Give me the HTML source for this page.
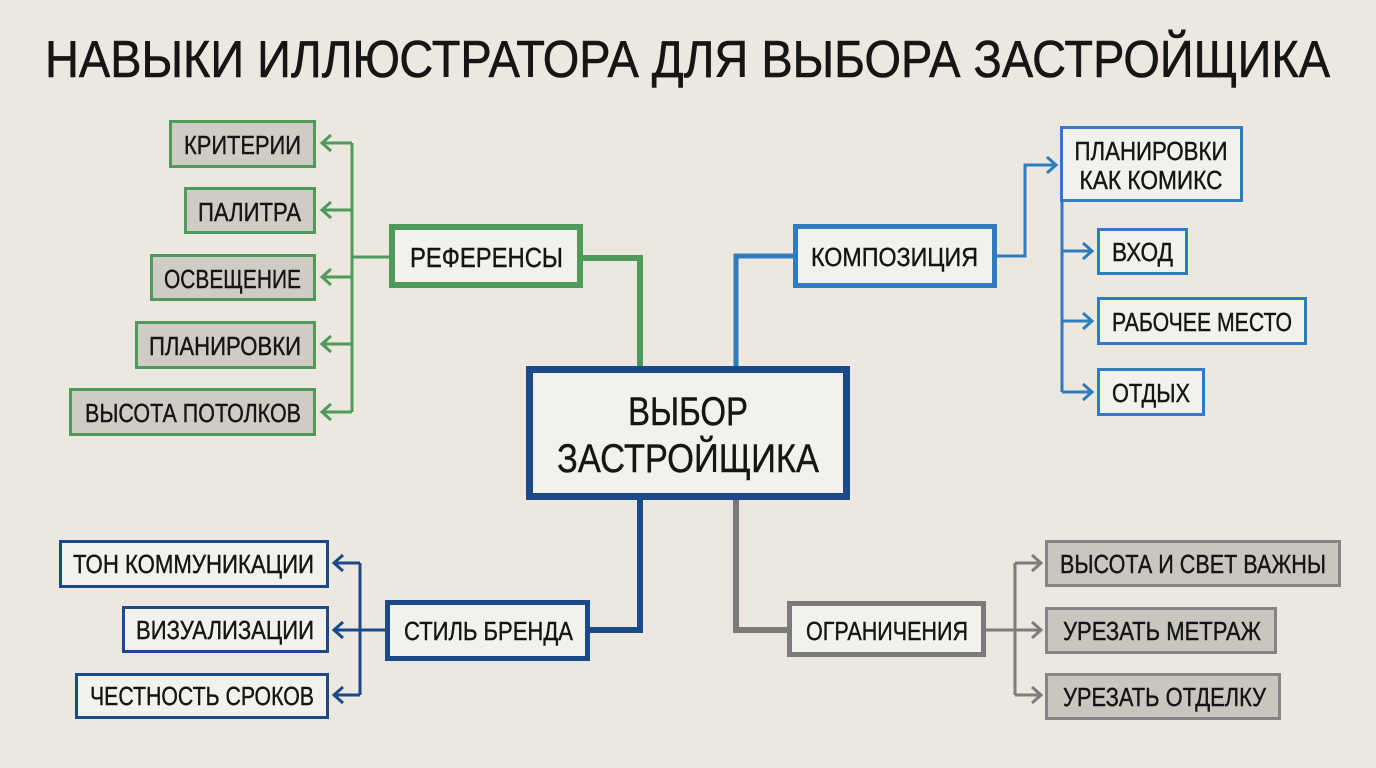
<!DOCTYPE html>
<html><head><meta charset="utf-8"><style>
html,body{margin:0;padding:0;background:#ece8df;}
svg{display:block}
text{font-family:"Liberation Sans","DejaVu Sans",sans-serif;fill:#151515;stroke:#151515;stroke-width:0.4;}
</style></head><body>
<svg width="1376" height="768" viewBox="0 0 1376 768" xmlns="http://www.w3.org/2000/svg">
<rect width="1376" height="768" fill="#ece8df"/>
<text x="45" y="77" font-size="52" textLength="1285" lengthAdjust="spacingAndGlyphs" style="stroke-width:0.6">НАВЫКИ ИЛЛЮСТРАТОРА ДЛЯ ВЫБОРА ЗАСТРОЙЩИКА</text>

<g fill="none" stroke-linejoin="miter">
  <polyline points="583,258 640,258 640,366" stroke="#4f9a5a" stroke-width="6"/>
  <g stroke="#4f9a5a" stroke-width="3">
    <line x1="389" y1="257" x2="352" y2="257"/>
    <line x1="352" y1="143" x2="352" y2="412"/>
    <line x1="352" y1="143" x2="322" y2="143"/><polyline points="331,135 322,143 331,151"/>
    <line x1="352" y1="210" x2="322" y2="210"/><polyline points="331,202 322,210 331,218"/>
    <line x1="352" y1="277" x2="322" y2="277"/><polyline points="331,269 322,277 331,285"/>
    <line x1="352" y1="344" x2="322" y2="344"/><polyline points="331,336 322,344 331,352"/>
    <line x1="352" y1="412" x2="322" y2="412"/><polyline points="331,404 322,412 331,420"/>
  </g>
  <polyline points="793,256 736,256 736,366" stroke="#2f7bbf" stroke-width="5"/>
  <g stroke="#2f7bbf" stroke-width="3">
    <polyline points="997,256 1025,256 1025,165 1056,165"/><polyline points="1047,157 1056,165 1047,173"/>
    <line x1="1062" y1="200" x2="1062" y2="392"/>
    <line x1="1062" y1="251" x2="1092" y2="251"/><polyline points="1083,243 1092,251 1083,259"/>
    <line x1="1062" y1="321" x2="1092" y2="321"/><polyline points="1083,313 1092,321 1083,329"/>
    <line x1="1062" y1="392" x2="1092" y2="392"/><polyline points="1083,384 1092,392 1083,400"/>
  </g>
  <polyline points="640,500 640,630 590,630" stroke="#1a4a8a" stroke-width="6"/>
  <g stroke="#1a4a8a" stroke-width="3">
    <line x1="385" y1="630" x2="360" y2="630"/>
    <line x1="360" y1="563" x2="360" y2="695"/>
    <line x1="360" y1="563" x2="334" y2="563"/><polyline points="343,555 334,563 343,571"/>
    <line x1="360" y1="630" x2="334" y2="630"/><polyline points="343,622 334,630 343,638"/>
    <line x1="360" y1="695" x2="334" y2="695"/><polyline points="343,687 334,695 343,703"/>
  </g>
  <polyline points="736,500 736,630 787,630" stroke="#7a7a7a" stroke-width="6"/>
  <g stroke="#7d7d7d" stroke-width="3">
    <line x1="986" y1="630" x2="1015" y2="630"/>
    <line x1="1015" y1="563" x2="1015" y2="695"/>
    <line x1="1015" y1="563" x2="1041" y2="563"/><polyline points="1032,555 1041,563 1032,571"/>
    <line x1="1015" y1="630" x2="1041" y2="630"/><polyline points="1032,622 1041,630 1032,638"/>
    <line x1="1015" y1="695" x2="1041" y2="695"/><polyline points="1032,687 1041,695 1032,703"/>
  </g>
</g>

<g fill="#cfccc5" stroke="#4f9a5a" stroke-width="3">
  <rect x="170.5" y="121.5" width="144" height="45"/>
  <rect x="185.5" y="188.5" width="129" height="44"/>
  <rect x="151.5" y="255.5" width="163" height="44"/>
  <rect x="136.5" y="322.5" width="178" height="45"/>
  <rect x="70.5" y="389.5" width="244" height="45"/>
</g>
<text x="184" y="154" font-size="26" textLength="117" lengthAdjust="spacingAndGlyphs">КРИТЕРИИ</text>
<text x="198" y="221" font-size="26" textLength="103" lengthAdjust="spacingAndGlyphs">ПАЛИТРА</text>
<text x="164" y="288" font-size="26" textLength="137" lengthAdjust="spacingAndGlyphs">ОСВЕЩЕНИЕ</text>
<text x="149" y="355" font-size="26" textLength="152" lengthAdjust="spacingAndGlyphs">ПЛАНИРОВКИ</text>
<text x="85" y="422" font-size="26" textLength="216" lengthAdjust="spacingAndGlyphs">ВЫСОТА ПОТОЛКОВ</text>

<rect x="392" y="227" width="188" height="58" fill="#f3f1ec" stroke="#4f9a5a" stroke-width="6"/>
<text x="410" y="267" font-size="28" textLength="153" lengthAdjust="spacingAndGlyphs">РЕФЕРЕНСЫ</text>

<rect x="529.5" y="369.5" width="317" height="127" fill="#f3f1ec" stroke="#1a4a8a" stroke-width="7"/>
<text x="688" y="425" font-size="40" text-anchor="middle" textLength="120" lengthAdjust="spacingAndGlyphs">ВЫБОР</text>
<text x="688" y="472" font-size="40" text-anchor="middle" textLength="262" lengthAdjust="spacingAndGlyphs">ЗАСТРОЙЩИКА</text>

<rect x="795.5" y="226.5" width="199" height="59" fill="#f3f1ec" stroke="#2f7bbf" stroke-width="5"/>
<text x="811" y="266" font-size="26" textLength="167" lengthAdjust="spacingAndGlyphs">КОМПОЗИЦИЯ</text>
<g fill="#f3f1ec" stroke="#2f7bbf" stroke-width="3">
  <rect x="1061.5" y="127.5" width="180" height="73"/>
  <rect x="1098.5" y="229.5" width="88" height="44"/>
  <rect x="1098.5" y="298.5" width="207" height="45"/>
  <rect x="1098.5" y="369.5" width="105" height="45"/>
</g>
<text x="1151" y="160" font-size="26" text-anchor="middle" textLength="153" lengthAdjust="spacingAndGlyphs">ПЛАНИРОВКИ</text>
<text x="1151" y="189" font-size="26" text-anchor="middle" textLength="143" lengthAdjust="spacingAndGlyphs">КАК КОМИКС</text>
<text x="1112" y="261" font-size="26" textLength="61" lengthAdjust="spacingAndGlyphs">ВХОД</text>
<text x="1112" y="331" font-size="26" textLength="180" lengthAdjust="spacingAndGlyphs">РАБОЧЕЕ МЕСТО</text>
<text x="1112" y="402" font-size="26" textLength="78" lengthAdjust="spacingAndGlyphs">ОТДЫХ</text>

<rect x="387.5" y="602.5" width="200" height="56" fill="#f3f1ec" stroke="#1a4a8a" stroke-width="5"/>
<text x="404" y="640" font-size="26" textLength="169" lengthAdjust="spacingAndGlyphs">СТИЛЬ БРЕНДА</text>
<g fill="#f3f1ec" stroke="#1a4a8a" stroke-width="3">
  <rect x="60.5" y="541.5" width="267" height="45"/>
  <rect x="123.5" y="607.5" width="204" height="44"/>
  <rect x="76.5" y="674.5" width="251" height="43"/>
</g>
<text x="73" y="573" font-size="26" textLength="241" lengthAdjust="spacingAndGlyphs">ТОН КОММУНИКАЦИИ</text>
<text x="136" y="639" font-size="26" textLength="178" lengthAdjust="spacingAndGlyphs">ВИЗУАЛИЗАЦИИ</text>
<text x="90" y="705" font-size="26" textLength="224" lengthAdjust="spacingAndGlyphs">ЧЕСТНОСТЬ СРОКОВ</text>

<rect x="789.5" y="603.5" width="194" height="51" fill="#f3f1ec" stroke="#7a7a7a" stroke-width="5"/>
<text x="806" y="640" font-size="26" textLength="162" lengthAdjust="spacingAndGlyphs">ОГРАНИЧЕНИЯ</text>
<g fill="#c9c6c0" stroke="#858585" stroke-width="3">
  <rect x="1046.5" y="541.5" width="293" height="44"/>
  <rect x="1046.5" y="608.5" width="229" height="44"/>
  <rect x="1046.5" y="674.5" width="233" height="44"/>
</g>
<text x="1060" y="573" font-size="26" textLength="266" lengthAdjust="spacingAndGlyphs">ВЫСОТА И СВЕТ ВАЖНЫ</text>
<text x="1063" y="640" font-size="26" textLength="198" lengthAdjust="spacingAndGlyphs">УРЕЗАТЬ МЕТРАЖ</text>
<text x="1063" y="706" font-size="26" textLength="203" lengthAdjust="spacingAndGlyphs">УРЕЗАТЬ ОТДЕЛКУ</text>
</svg>
</body></html>
